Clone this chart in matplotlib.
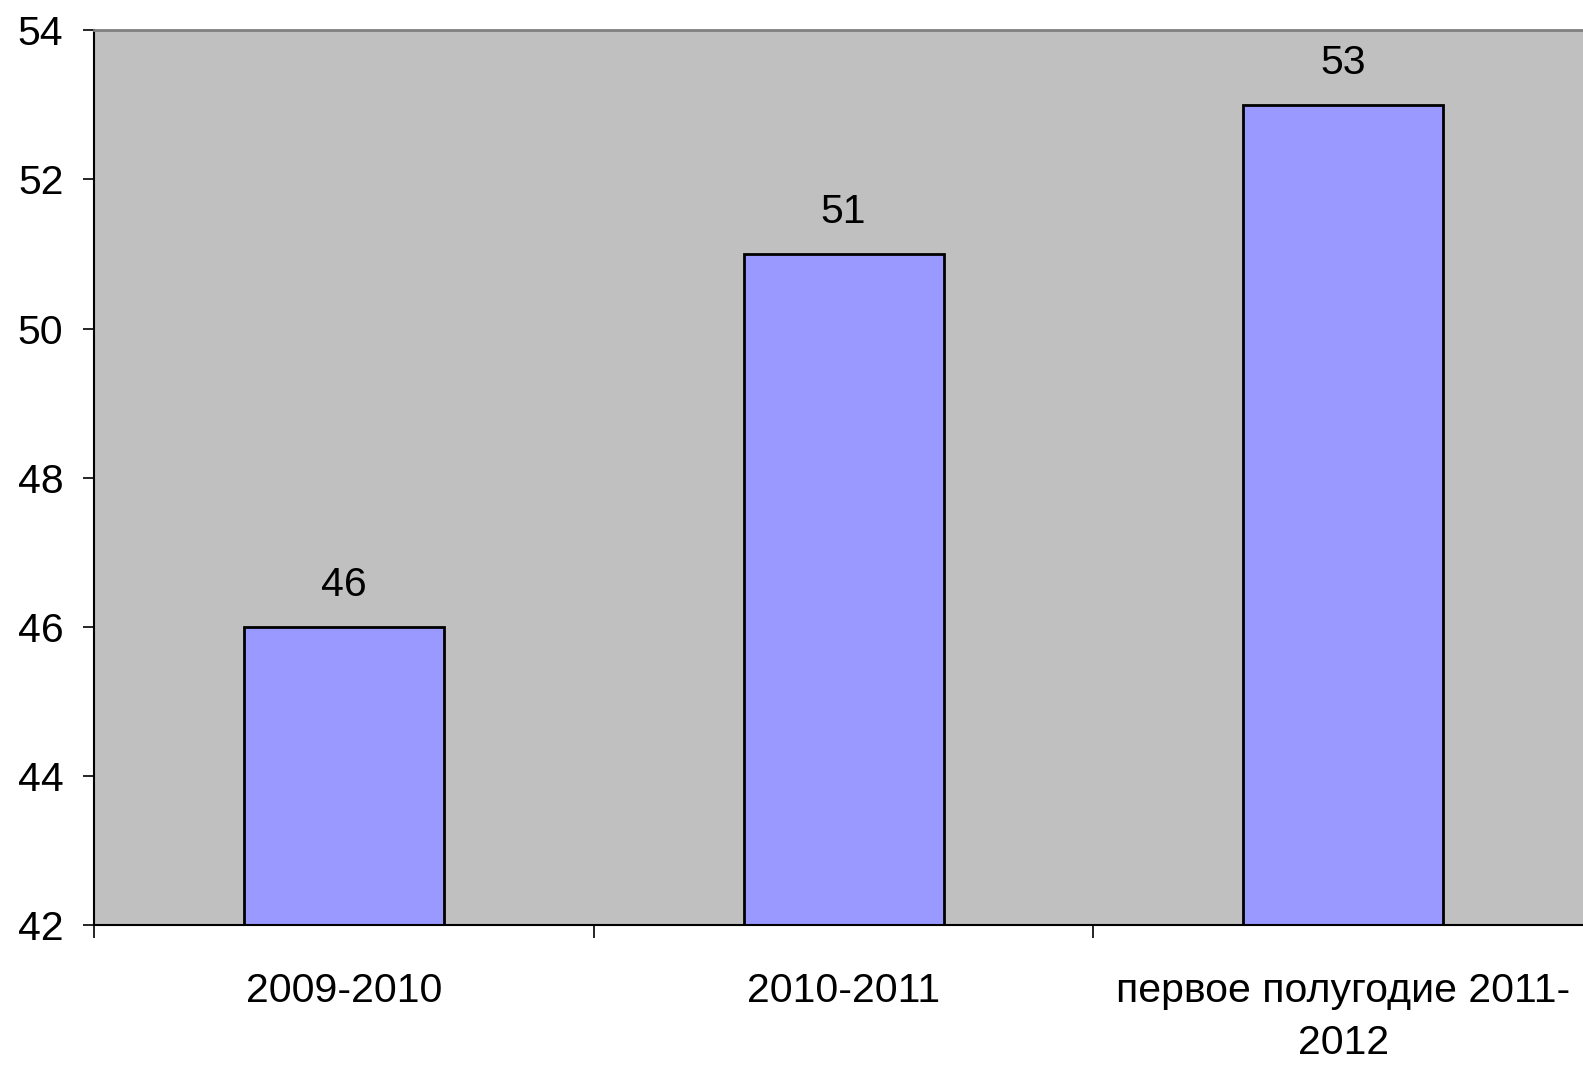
import matplotlib
matplotlib.use("Agg")
import matplotlib.pyplot as plt

# Data
categories = ["2009-2010", "2010-2011", "первое полугодие 2011-\n2012"]
values = [46, 51, 53]
y_ticks = [42, 44, 46, 48, 50, 52, 54]

plt.rcParams["font.family"] = ["Liberation Sans", "DejaVu Sans"]
FS = 29.5

fig = plt.figure(figsize=(15.83, 10.65), dpi=100)
ax = fig.add_axes([0.0594, 0.1315, 0.947, 0.84])
ax.set_facecolor("#C0C0C0")

x = list(range(len(categories)))
ax.bar(x, values, width=0.4, color="#9999FF", edgecolor="black", linewidth=2, zorder=2)

for xi, v in zip(x, values):
    ax.annotate(str(v), (xi, v), xytext=(0, 30), textcoords="offset points",
                ha="center", va="center", fontsize=FS)

ax.set_xlim(-0.5, 2.5)
ax.set_ylim(42, 54)
ax.set_yticks(y_ticks)
ax.set_yticklabels([str(t) for t in y_ticks])
ax.tick_params(axis="y", direction="out", length=8, width=1.2, pad=14, labelsize=FS)

ax.set_xticks(x)
ax.set_xticklabels(categories, fontsize=FS, linespacing=1.45)
ax.tick_params(axis="x", which="major", length=0, pad=34)
ax.set_xticks([-0.5, 0.5, 1.5, 2.5], minor=True)
ax.tick_params(axis="x", which="minor", direction="out", length=9, width=1.2)

for side in ["left", "bottom"]:
    ax.spines[side].set_color("black")
    ax.spines[side].set_linewidth(1.5)
ax.spines["top"].set_color("#808080")
ax.spines["top"].set_linewidth(2)
ax.spines["right"].set_visible(False)

fig.savefig("out.png", dpi=100)
